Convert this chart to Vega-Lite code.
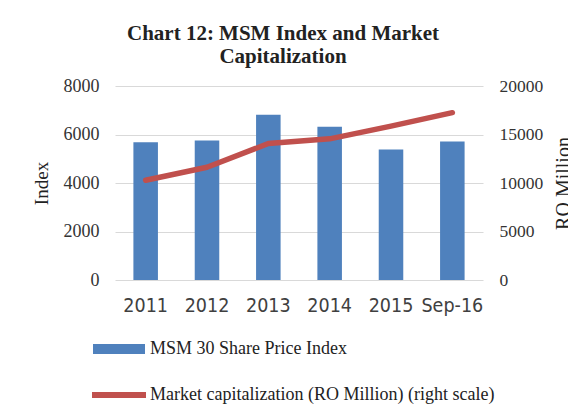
{
  "$schema": "https://vega.github.io/schema/vega-lite/v6.json",
  "width": 368,
  "height": 194,
  "autosize": {"type": "none"},
  "padding": {"left": 115, "top": 86, "right": 85, "bottom": 134},
  "background": "white",
  "title": {
    "text": ["Chart 12: MSM Index and Market", "Capitalization"],
    "font": "Liberation Serif",
    "fontSize": 21,
    "fontWeight": "bold",
    "color": "#222222",
    "anchor": "middle",
    "frame": "group",
    "dx": -16,
    "offset": 10,
    "lineHeight": 23
  },
  "data": {
    "values": [
      {"period": "2011", "index": 5682, "mcap": 10280},
      {"period": "2012", "index": 5752, "mcap": 11620},
      {"period": "2013", "index": 6815, "mcap": 14070},
      {"period": "2014", "index": 6318, "mcap": 14550},
      {"period": "2015", "index": 5380, "mcap": 15860},
      {"period": "Sep-16", "index": 5711, "mcap": 17250}
    ]
  },
  "encoding": {
    "x": {
      "field": "period",
      "type": "ordinal",
      "sort": null,
      "scale": {"paddingInner": 0.6, "paddingOuter": 0.3},
      "axis": {
        "title": null,
        "labelAngle": 0,
        "domain": false,
        "ticks": false,
        "labelPadding": 16,
        "labelFont": "DejaVu Sans Condensed, sans-serif",
        "labelFontSize": 19.5,
        "labelColor": "#404040"
      }
    }
  },
  "layer": [
    {
      "mark": {"type": "bar"},
      "encoding": {
        "y": {
          "field": "index",
          "type": "quantitative",
          "scale": {"domain": [0, 8000], "nice": false},
          "axis": {
            "title": "Index",
            "format": "d",
            "values": [0, 2000, 4000, 6000, 8000],
            "grid": true,
            "gridColor": "#d9d9d9",
            "gridWidth": 1,
            "domain": false,
            "ticks": false,
            "labelPadding": 16,
            "labelFont": "Liberation Serif",
            "labelFontSize": 18,
            "labelColor": "#333333",
            "titleFont": "Liberation Serif",
            "titleFontSize": 19,
            "titleFontWeight": "normal",
            "titleColor": "#222222",
            "titlePadding": 12
          }
        },
        "fill": {
          "datum": "MSM 30 Share Price Index",
          "type": "nominal",
          "scale": {"range": ["#4f81bd"]},
          "legend": {
            "title": null,
            "orient": "none",
            "legendX": -22,
            "legendY": 237,
            "symbolType": "M-1,-0.19 L1,-0.19 L1,0.19 L-1,0.19 Z",
            "symbolSize": 2704,
            "symbolStrokeWidth": 0,
            "labelFont": "Liberation Serif",
            "labelFontSize": 18,
            "labelColor": "#222222",
            "labelOffset": 5,
            "labelLimit": 500
          }
        }
      }
    },
    {
      "mark": {"type": "line", "strokeWidth": 5.5, "strokeCap": "round", "strokeJoin": "round"},
      "encoding": {
        "y": {
          "field": "mcap",
          "type": "quantitative",
          "scale": {"domain": [0, 20000], "nice": false},
          "axis": {
            "orient": "right",
            "title": "RO Million",
            "format": "d",
            "values": [0, 5000, 10000, 15000, 20000],
            "grid": false,
            "domain": false,
            "ticks": false,
            "labelPadding": 16,
            "labelFont": "Liberation Serif",
            "labelFontSize": 17.5,
            "labelColor": "#333333",
            "titleFont": "Liberation Serif",
            "titleFontSize": 20,
            "titleFontWeight": "normal",
            "titleColor": "#222222",
            "titleAngle": -90,
            "titleBaseline": "top",
            "titlePadding": 11
          }
        },
        "stroke": {
          "datum": "Market capitalization (RO Million) (right scale)",
          "type": "nominal",
          "scale": {"range": ["#c0504d"]},
          "legend": {
            "title": null,
            "orient": "none",
            "legendX": -26,
            "legendY": 279,
            "symbolType": "stroke",
            "symbolSize": 2916,
            "symbolStrokeWidth": 6,
            "labelFont": "Liberation Serif",
            "labelFontSize": 18,
            "labelColor": "#222222",
            "labelOffset": 1,
            "labelLimit": 500
          }
        }
      }
    }
  ],
  "resolve": {"scale": {"y": "independent"}},
  "config": {"view": {"stroke": null}}
}
